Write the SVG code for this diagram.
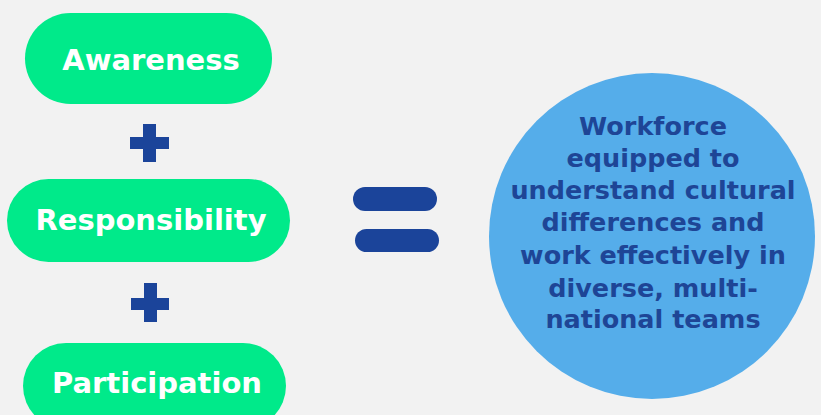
<svg xmlns="http://www.w3.org/2000/svg" width="821" height="415" viewBox="0 0 821 415">
<style>
.pill{fill:#00EA8A}
.pt{font-family:"DejaVu Sans",Verdana,sans-serif;font-weight:bold;font-size:29px;fill:#ffffff;text-anchor:middle}
.op{fill:#1B449A}
.ct{font-family:"DejaVu Sans",Verdana,sans-serif;font-weight:bold;font-size:25.5px;fill:#1E4596;text-anchor:middle}
</style>
<rect width="821" height="415" fill="#F2F2F2"/>
<g id="awareness">
<rect class="pill" x="25" y="13" width="247" height="91" rx="45.5"/>
<text class="pt" x="151" y="70">Awareness</text>
</g>
<g id="responsibility">
<rect class="pill" x="7" y="179" width="283" height="83" rx="41.5"/>
<text class="pt" x="151" y="230">Responsibility</text>
</g>
<g id="participation">
<rect class="pill" x="23" y="343" width="263" height="86" rx="43"/>
<text class="pt" x="157" y="393">Participation</text>
</g>
<g id="connectors">
<g id="plus1" class="op">
<rect x="143" y="124" width="13" height="38"/>
<rect x="130" y="137" width="39" height="12"/>
</g>
<g id="plus2" class="op">
<rect x="144" y="283" width="13" height="39"/>
<rect x="131" y="298" width="38" height="12"/>
</g>
<g id="equals" class="op">
<rect x="353" y="187" width="84" height="24" rx="12"/>
<rect x="355" y="229" width="84" height="23" rx="11.5"/>
</g>
</g>
<g id="result">
<circle cx="652" cy="236" r="163" fill="#55ADEA"/>
<text class="ct" x="653" y="135">Workforce</text>
<text class="ct" x="653" y="167">equipped to</text>
<text class="ct" x="653" y="199">understand cultural</text>
<text class="ct" x="653" y="231">differences and</text>
<text class="ct" x="653" y="264">work effectively in</text>
<text class="ct" x="653" y="297">diverse, multi-</text>
<text class="ct" x="653" y="328">national teams</text>
</g>
</svg>
